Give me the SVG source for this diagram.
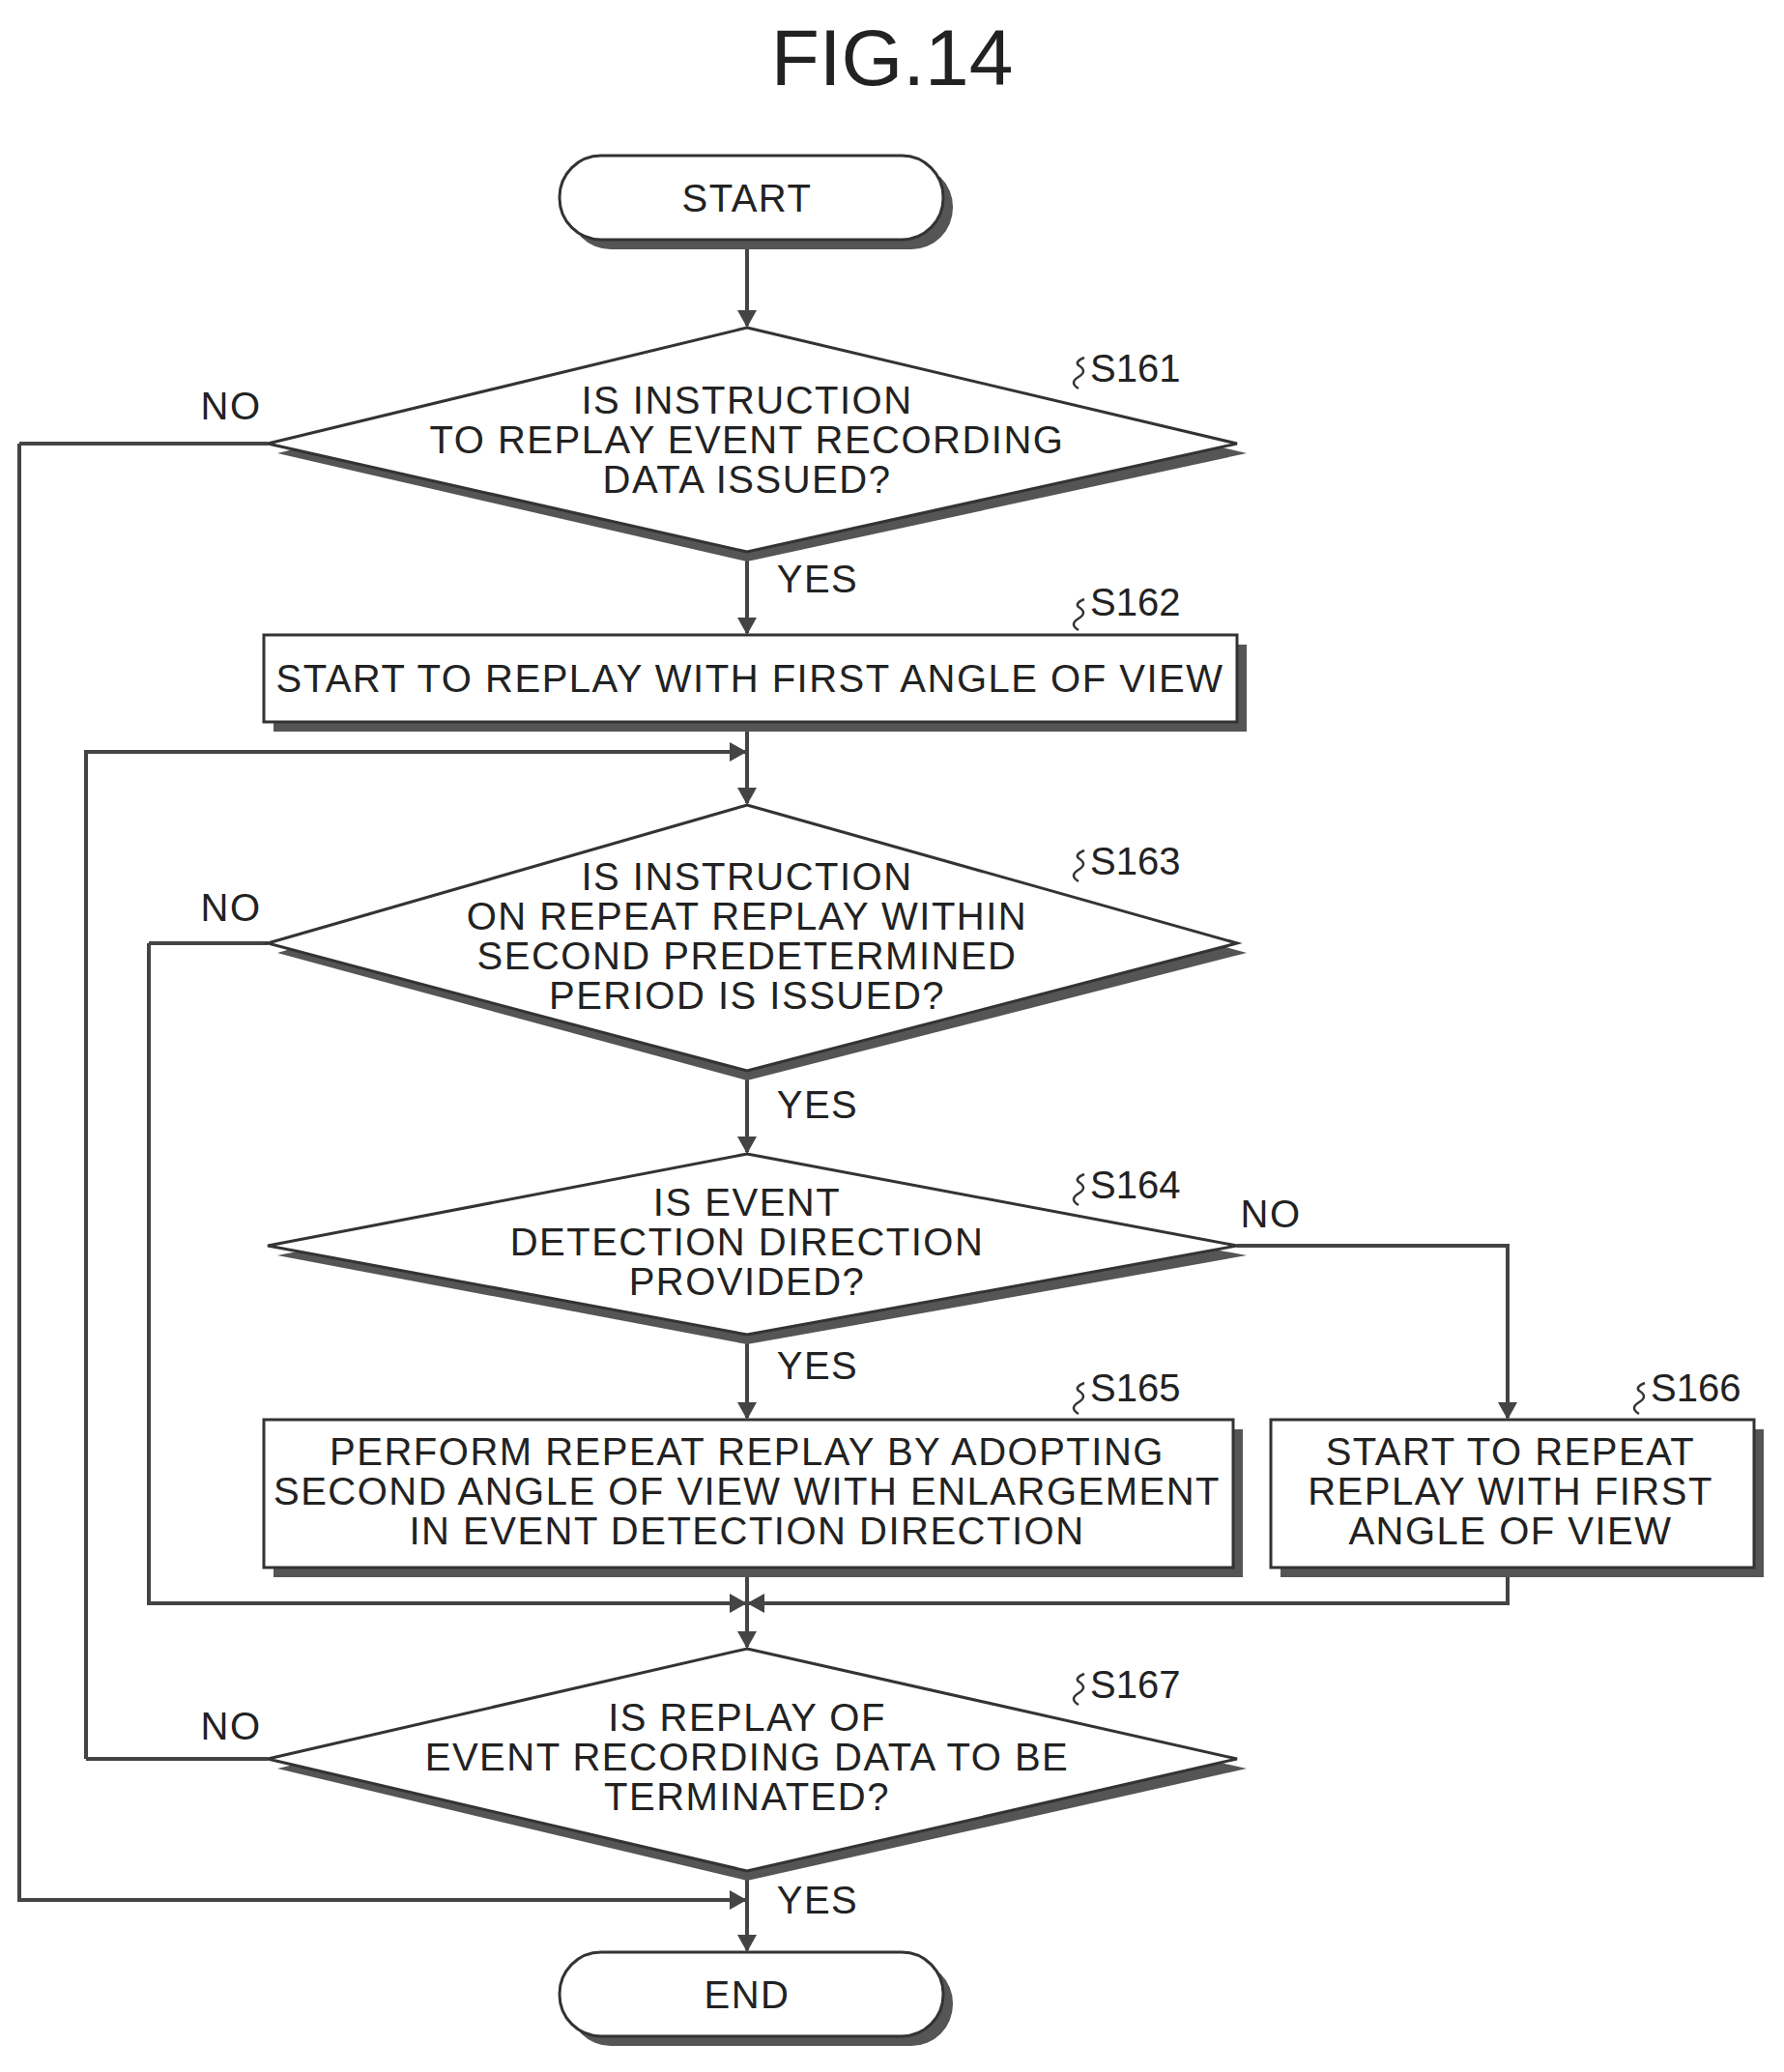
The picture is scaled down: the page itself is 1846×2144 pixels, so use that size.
<svg xmlns="http://www.w3.org/2000/svg" width="1846" height="2144" viewBox="0 0 1846 2144">
<style>
text{font-family:"Liberation Sans",Arial,sans-serif;font-size:40px;letter-spacing:1.5px;fill:#222;text-anchor:middle}
.l{text-anchor:start;letter-spacing:0}
.sh{fill:#555}
.bx{fill:#fff;stroke:#333;stroke-width:3}
.c{fill:none;stroke:#444;stroke-width:4}
.sq{fill:none;stroke:#333;stroke-width:2.5}
</style>
<defs>
<marker id="a" markerWidth="18" markerHeight="20" refX="16" refY="10" orient="auto" markerUnits="userSpaceOnUse" viewBox="0 0 18 20"><path d="M0,0 L18,10 L0,20 Z" fill="#444"/></marker>
</defs>
<text x="923" y="88" style="font-size:82px;letter-spacing:0">FIG.14</text>
<g id="connectors">
<path class="c" d="M773,248 V337" marker-end="url(#a)"/>
<path class="c" d="M773,571 V655" marker-end="url(#a)"/>
<path class="c" d="M773,747 V831" marker-end="url(#a)"/>
<path class="c" d="M89,1820 H277 M89,1820 V778 H771" marker-end="url(#a)"/>
<path class="c" d="M773,1108 V1192" marker-end="url(#a)"/>
<path class="c" d="M1280,1289 H1560 V1467" marker-end="url(#a)"/>
<path class="c" d="M773,1381 V1467" marker-end="url(#a)"/>
<path class="c" d="M154,976 H277 M154,976 V1659 H771" marker-end="url(#a)"/>
<path class="c" d="M1560,1622 V1659 H775" marker-end="url(#a)"/>
<path class="c" d="M773,1622 V1704" marker-end="url(#a)"/>
<path class="c" d="M20,459 H277 M20,459 V1966 H771" marker-end="url(#a)"/>
<path class="c" d="M773,1936 V2018" marker-end="url(#a)"/>
</g>
<g id="start">
<rect class="sh" x="589" y="171" width="397" height="87" rx="43"/>
<rect class="bx" x="579" y="161" width="397" height="87" rx="43"/>
<text x="773" y="219">START</text>
</g>
<g id="s161">
<polygon class="sh" points="773,349 1290,469 773,581 287,469"/>
<polygon class="bx" points="773,339 1280,459 773,571 277,459"/>
<text x="773" y="428">IS INSTRUCTION</text>
<text x="773" y="469">TO REPLAY EVENT RECORDING</text>
<text x="773" y="510">DATA ISSUED?</text>
<path class="sq" d="M1116,402 q-10,-6 0,-12 q10,-6 0,-12 q-4,-4 6,-8"/>
<text class="l" x="1128" y="395">S161</text>
<text x="239" y="434">NO</text>
<text x="846" y="613">YES</text>
</g>
<g id="s162">
<rect class="sh" x="283" y="667" width="1007" height="90"/>
<rect class="bx" x="273" y="657" width="1007" height="90"/>
<text x="776" y="716">START TO REPLAY WITH FIRST ANGLE OF VIEW</text>
<path class="sq" d="M1116,652 q-10,-6 0,-12 q10,-6 0,-12 q-4,-4 6,-8"/>
<text class="l" x="1128" y="637">S162</text>
</g>
<g id="s163">
<polygon class="sh" points="773,843 1290,986 773,1118 287,986"/>
<polygon class="bx" points="773,833 1280,976 773,1108 277,976"/>
<text x="773" y="921">IS INSTRUCTION</text>
<text x="773" y="962">ON REPEAT REPLAY WITHIN</text>
<text x="773" y="1003">SECOND PREDETERMINED</text>
<text x="773" y="1044">PERIOD IS ISSUED?</text>
<path class="sq" d="M1116,912 q-10,-6 0,-12 q10,-6 0,-12 q-4,-4 6,-8"/>
<text class="l" x="1128" y="905">S163</text>
<text x="239" y="953">NO</text>
<text x="846" y="1157">YES</text>
</g>
<g id="s164">
<polygon class="sh" points="773,1204 1290,1299 773,1391 287,1299"/>
<polygon class="bx" points="773,1194 1280,1289 773,1381 277,1289"/>
<text x="773" y="1258">IS EVENT</text>
<text x="773" y="1299">DETECTION DIRECTION</text>
<text x="773" y="1340">PROVIDED?</text>
<path class="sq" d="M1116,1247 q-10,-6 0,-12 q10,-6 0,-12 q-4,-4 6,-8"/>
<text class="l" x="1128" y="1240">S164</text>
<text x="1315" y="1270">NO</text>
<text x="846" y="1427">YES</text>
</g>
<g id="s165">
<rect class="sh" x="283" y="1479" width="1003" height="153"/>
<rect class="bx" x="273" y="1469" width="1003" height="153"/>
<text x="773" y="1516">PERFORM REPEAT REPLAY BY ADOPTING</text>
<text x="773" y="1557">SECOND ANGLE OF VIEW WITH ENLARGEMENT</text>
<text x="773" y="1598">IN EVENT DETECTION DIRECTION</text>
<path class="sq" d="M1116,1463 q-10,-6 0,-12 q10,-6 0,-12 q-4,-4 6,-8"/>
<text class="l" x="1128" y="1450">S165</text>
</g>
<g id="s166">
<rect class="sh" x="1325" y="1479" width="500" height="153"/>
<rect class="bx" x="1315" y="1469" width="500" height="153"/>
<text x="1563" y="1516">START TO REPEAT</text>
<text x="1563" y="1557">REPLAY WITH FIRST</text>
<text x="1563" y="1598">ANGLE OF VIEW</text>
<path class="sq" d="M1696,1463 q-10,-6 0,-12 q10,-6 0,-12 q-4,-4 6,-8"/>
<text class="l" x="1708" y="1450">S166</text>
</g>
<g id="s167">
<polygon class="sh" points="773,1716 1290,1830 773,1946 287,1830"/>
<polygon class="bx" points="773,1706 1280,1820 773,1936 277,1820"/>
<text x="773" y="1791">IS REPLAY OF</text>
<text x="773" y="1832">EVENT RECORDING DATA TO BE</text>
<text x="773" y="1873">TERMINATED?</text>
<path class="sq" d="M1116,1764 q-10,-6 0,-12 q10,-6 0,-12 q-4,-4 6,-8"/>
<text class="l" x="1128" y="1757">S167</text>
<text x="239" y="1800">NO</text>
<text x="846" y="1980">YES</text>
</g>
<g id="end">
<rect class="sh" x="589" y="2030" width="397" height="87" rx="43"/>
<rect class="bx" x="579" y="2020" width="397" height="87" rx="43"/>
<text x="773" y="2078">END</text>
</g>
</svg>
